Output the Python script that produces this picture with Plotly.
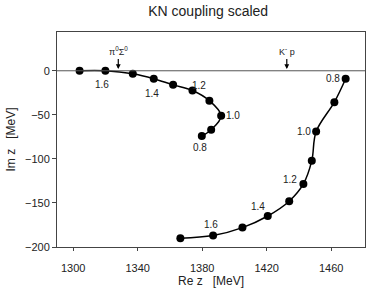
import plotly.graph_objects as go

# Left trajectory (coupling scale 1.7 -> 0.8)
left_re = [1304, 1320, 1337, 1350, 1362, 1374, 1384.5, 1391.8, 1385.6, 1379.8]
left_im = [0, 0, -3.4, -9, -16, -22.4, -34, -51, -67, -74]
# Right trajectory (coupling scale 0.8 -> 1.7)
right_re = [1469, 1462, 1450.7, 1448, 1442.8, 1434, 1420.7, 1405, 1386.8, 1366.5]
right_im = [-9, -35.6, -69, -102, -128.4, -148, -164.8, -178, -187, -190]

left_lbl_text = ["1.6", "1.4", "1.2", "1.0", "0.8"]
left_lbl_x = [1318, 1349, 1378.1, 1399.2, 1378.8]
left_lbl_y = [-15.9, -26.1, -17, -51.1, -87.2]
right_lbl_text = ["0.8", "1.0", "1.2", "1.4", "1.6"]
right_lbl_x = [1461.2, 1443.3, 1434.6, 1414.7, 1385.6]
right_lbl_y = [-9.1, -69.3, -123.9, -154.5, -173.9]

thresh_names = ["π<sup>0</sup>Σ<sup>0</sup>", "K<sup>-</sup> p"]
thresh_x = [1328, 1432.5]

x_ticks = [1300, 1340, 1380, 1420, 1460]
y_ticks = [0, -50, -100, -150, -200]

FONT = "Arial, Liberation Sans, sans-serif"

fig = go.Figure()
for xs, ys in [(left_re, left_im), (right_re, right_im)]:
    fig.add_trace(go.Scatter(
        x=xs, y=ys, mode="lines+markers",
        line=dict(color="black", width=1.5, shape="spline", smoothing=1.0),
        marker=dict(color="black", size=8),
        showlegend=False, hoverinfo="skip"))

for t, x, y in zip(left_lbl_text + right_lbl_text, left_lbl_x + right_lbl_x, left_lbl_y + right_lbl_y):
    fig.add_annotation(x=x, y=y, text=t, showarrow=False,
                       font=dict(size=10, color="#222", family=FONT))

for name, x in zip(thresh_names, thresh_x):
    fig.add_annotation(x=x, y=2, text=name, showarrow=True, arrowhead=2,
                       arrowsize=0.8, arrowwidth=1.2, arrowcolor="black",
                       ax=0, ay=-10, font=dict(size=9, color="#222", family=FONT),
                       yanchor="bottom")

fig.add_shape(type="line", xref="paper", x0=0, x1=1, yref="y", y0=0, y1=0,
              line=dict(color="#555", width=1))

fig.update_layout(
    width=382, height=294,
    margin=dict(l=57, r=17, t=32, b=47, autoexpand=False),
    paper_bgcolor="white", plot_bgcolor="white",
    font=dict(family=FONT, color="#222"),
    title=dict(text="KN coupling scaled", x=0.545, xanchor="center", y=0.963,
               yanchor="middle", font=dict(size=14, family=FONT, color="#222")),
    xaxis=dict(range=[1290, 1481], tickvals=x_ticks, showgrid=False, zeroline=False,
               showline=True, mirror=True, linecolor="#444", linewidth=1,
               ticks="outside", ticklen=3, tickcolor="#444", automargin=False,
               ticklabelstandoff=8,
               tickfont=dict(size=11, family=FONT),
               title=dict(text="Re z   [MeV]", font=dict(size=12, family=FONT), standoff=2)),
    yaxis=dict(range=[-200, 44], tickvals=y_ticks, showgrid=False, zeroline=False,
               showline=True, mirror=True, linecolor="#444", linewidth=1,
               ticks="outside", ticklen=4, tickcolor="#444", automargin=False,
               tickfont=dict(size=11, family=FONT),
               title=dict(text="Im z   [MeV]", font=dict(size=12, family=FONT), standoff=6)),
)

fig.write_html("out.html", config={"displayModeBar": False},
               post_script="document.body.style.margin='0';")
